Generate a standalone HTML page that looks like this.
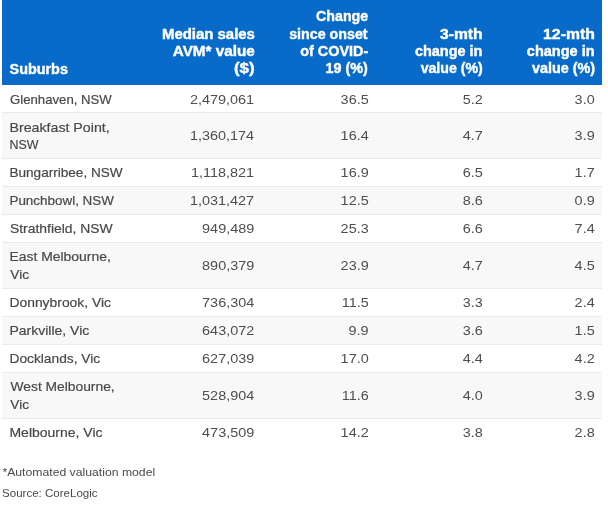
<!DOCTYPE html>
<html><head><meta charset="utf-8">
<style>
html,body{margin:0;padding:0;background:#fff;}
body{width:608px;height:506px;overflow:hidden;position:relative;font-family:"Liberation Sans",sans-serif;}
.hd{position:absolute;left:2px;top:0;width:600px;height:85px;background:#086bc9;}
.r{position:absolute;left:2px;width:600px;box-sizing:border-box;border-bottom:1px solid #eaeaea;}
.r.g{background:#f8f8f8;}
.t{position:absolute;white-space:pre;}
.wrap{position:absolute;left:0;top:0;width:608px;height:506px;will-change:transform;}
.h{color:#fff;font-weight:bold;font-size:14px;line-height:17px;-webkit-text-stroke:0.4px #fff;}
.d{color:#484848;font-size:13.5px;line-height:17px;-webkit-text-stroke:0.2px #484848;}
.n{color:#4e4e4e;font-size:13px;line-height:17px;}
.f{color:#4a4a4a;font-size:11px;line-height:15px;}
.L{transform-origin:0 50%;}
.R{transform-origin:100% 50%;}
</style></head><body>
<div class="wrap">
<div class="hd"></div>
<div class="r" style="top:85px;height:28px"></div>
<div class="r g" style="top:113px;height:46px"></div>
<div class="r" style="top:159px;height:28px"></div>
<div class="r g" style="top:187px;height:28px"></div>
<div class="r" style="top:215px;height:28px"></div>
<div class="r g" style="top:243px;height:46px"></div>
<div class="r" style="top:289px;height:28px"></div>
<div class="r g" style="top:317px;height:28px"></div>
<div class="r" style="top:345px;height:28px"></div>
<div class="r g" style="top:373px;height:46px"></div>
<div class="r" style="top:419px;height:28px;border:0"></div>
<span class="t h L" style="left:9px;top:61px;transform:translateX(0.60px) scaleX(1.0263)">Suburbs</span>
<span class="t h R" style="right:353px;top:26px;transform:translateX(-0.26px) scaleX(1.0664)">Median sales</span>
<span class="t h R" style="right:353px;top:43px;transform:translateX(-0.51px) scaleX(1.0894)">AVM* value</span>
<span class="t h R" style="right:353px;top:60px;transform:translateX(-0.60px) scaleX(1.2026)">($)</span>
<span class="t h R" style="right:240px;top:8px;transform:translateX(-0.17px) scaleX(1.0147)">Change</span>
<span class="t h R" style="right:240px;top:26px;transform:translateX(-0.42px) scaleX(1.0185)">since onset</span>
<span class="t h R" style="right:239px;top:43px;transform:translateX(-0.92px) scaleX(1.0278)">of COVID-</span>
<span class="t h R" style="right:240px;top:60px;transform:translateX(-0.42px) scaleX(1.0241)">19 (%)</span>
<span class="t h R" style="right:125px;top:26px;transform:translateX(-0.52px) scaleX(1.1170)">3-mth</span>
<span class="t h R" style="right:125px;top:43px;transform:translateX(-0.92px) scaleX(1.0331)">change in</span>
<span class="t h R" style="right:125px;top:60px;transform:translateX(-0.68px) scaleX(1.0113)">value (%)</span>
<span class="t h R" style="right:13px;top:26px;transform:translateX(-0.10px) scaleX(1.1264)">12-mth</span>
<span class="t h R" style="right:13px;top:43px;transform:translateX(-0.75px) scaleX(1.0374)">change in</span>
<span class="t h R" style="right:13px;top:60px;transform:translateX(-0.34px) scaleX(1.0271)">value (%)</span>
<span class="t d L" style="left:9px;top:91px;transform:translateX(0.95px) scaleX(0.9765)">Glenhaven, NSW</span>
<span class="t d L" style="left:9px;top:119px;transform:translateX(0.45px) scaleX(1.0517)">Breakfast Point,</span>
<span class="t d L" style="left:9px;top:136px;transform:translateX(0.45px) scaleX(0.9198)">NSW</span>
<span class="t d L" style="left:9px;top:164px;transform:translateX(0.45px) scaleX(1.0056)">Bungarribee, NSW</span>
<span class="t d L" style="left:9px;top:192px;transform:translateX(0.45px) scaleX(0.9945)">Punchbowl, NSW</span>
<span class="t d L" style="left:9px;top:220px;transform:translateX(0.95px) scaleX(1.0298)">Strathfield, NSW</span>
<span class="t d L" style="left:9px;top:248px;transform:translateX(0.45px) scaleX(1.0305)">East Melbourne,</span>
<span class="t d L" style="left:10px;top:266px;transform:translateX(0.35px) scaleX(1.0079)">Vic</span>
<span class="t d L" style="left:9px;top:294px;transform:translateX(0.45px) scaleX(1.0278)">Donnybrook, Vic</span>
<span class="t d L" style="left:9px;top:322px;transform:translateX(0.45px) scaleX(1.0368)">Parkville, Vic</span>
<span class="t d L" style="left:9px;top:350px;transform:translateX(0.45px) scaleX(1.0185)">Docklands, Vic</span>
<span class="t d L" style="left:10px;top:378px;transform:translateX(0.60px) scaleX(1.0221)">West Melbourne,</span>
<span class="t d L" style="left:10px;top:396px;transform:translateX(0.35px) scaleX(1.0079)">Vic</span>
<span class="t d L" style="left:9px;top:424px;transform:translateX(0.45px) scaleX(1.0366)">Melbourne, Vic</span>
<span class="t n R" style="right:353px;top:91px;transform:translateX(-0.75px) scaleX(1.1100)">2,479,061</span>
<span class="t n R" style="right:239px;top:91px;transform:translateX(-0.60px) scaleX(1.1100)">36.5</span>
<span class="t n R" style="right:125px;top:91px;transform:translateX(-0.20px) scaleX(1.1100)">5.2</span>
<span class="t n R" style="right:13px;top:91px;transform:translateX(-0.40px) scaleX(1.1100)">3.0</span>
<span class="t n R" style="right:353px;top:127px;transform:translateX(-0.75px) scaleX(1.1100)">1,360,174</span>
<span class="t n R" style="right:239px;top:127px;transform:translateX(-0.60px) scaleX(1.1100)">16.4</span>
<span class="t n R" style="right:125px;top:127px;transform:translateX(-0.20px) scaleX(1.1100)">4.7</span>
<span class="t n R" style="right:13px;top:127px;transform:translateX(-0.40px) scaleX(1.1100)">3.9</span>
<span class="t n R" style="right:353px;top:164px;transform:translateX(-0.75px) scaleX(1.1100)">1,118,821</span>
<span class="t n R" style="right:239px;top:164px;transform:translateX(-0.60px) scaleX(1.1100)">16.9</span>
<span class="t n R" style="right:125px;top:164px;transform:translateX(-0.20px) scaleX(1.1100)">6.5</span>
<span class="t n R" style="right:13px;top:164px;transform:translateX(-0.40px) scaleX(1.1100)">1.7</span>
<span class="t n R" style="right:353px;top:192px;transform:translateX(-0.75px) scaleX(1.1100)">1,031,427</span>
<span class="t n R" style="right:239px;top:192px;transform:translateX(-0.60px) scaleX(1.1100)">12.5</span>
<span class="t n R" style="right:125px;top:192px;transform:translateX(-0.20px) scaleX(1.1100)">8.6</span>
<span class="t n R" style="right:13px;top:192px;transform:translateX(-0.40px) scaleX(1.1100)">0.9</span>
<span class="t n R" style="right:353px;top:220px;transform:translateX(-0.75px) scaleX(1.1100)">949,489</span>
<span class="t n R" style="right:239px;top:220px;transform:translateX(-0.60px) scaleX(1.1100)">25.3</span>
<span class="t n R" style="right:125px;top:220px;transform:translateX(-0.20px) scaleX(1.1100)">6.6</span>
<span class="t n R" style="right:13px;top:220px;transform:translateX(-0.40px) scaleX(1.1100)">7.4</span>
<span class="t n R" style="right:353px;top:257px;transform:translateX(-0.75px) scaleX(1.1100)">890,379</span>
<span class="t n R" style="right:239px;top:257px;transform:translateX(-0.60px) scaleX(1.1100)">23.9</span>
<span class="t n R" style="right:125px;top:257px;transform:translateX(-0.20px) scaleX(1.1100)">4.7</span>
<span class="t n R" style="right:13px;top:257px;transform:translateX(-0.40px) scaleX(1.1100)">4.5</span>
<span class="t n R" style="right:353px;top:294px;transform:translateX(-0.75px) scaleX(1.1100)">736,304</span>
<span class="t n R" style="right:239px;top:294px;transform:translateX(-0.60px) scaleX(1.1100)">11.5</span>
<span class="t n R" style="right:125px;top:294px;transform:translateX(-0.20px) scaleX(1.1100)">3.3</span>
<span class="t n R" style="right:13px;top:294px;transform:translateX(-0.40px) scaleX(1.1100)">2.4</span>
<span class="t n R" style="right:353px;top:322px;transform:translateX(-0.75px) scaleX(1.1100)">643,072</span>
<span class="t n R" style="right:239px;top:322px;transform:translateX(-0.60px) scaleX(1.1100)">9.9</span>
<span class="t n R" style="right:125px;top:322px;transform:translateX(-0.20px) scaleX(1.1100)">3.6</span>
<span class="t n R" style="right:13px;top:322px;transform:translateX(-0.40px) scaleX(1.1100)">1.5</span>
<span class="t n R" style="right:353px;top:350px;transform:translateX(-0.75px) scaleX(1.1100)">627,039</span>
<span class="t n R" style="right:239px;top:350px;transform:translateX(-0.60px) scaleX(1.1100)">17.0</span>
<span class="t n R" style="right:125px;top:350px;transform:translateX(-0.20px) scaleX(1.1100)">4.4</span>
<span class="t n R" style="right:13px;top:350px;transform:translateX(-0.40px) scaleX(1.1100)">4.2</span>
<span class="t n R" style="right:353px;top:387px;transform:translateX(-0.75px) scaleX(1.1100)">528,904</span>
<span class="t n R" style="right:239px;top:387px;transform:translateX(-0.60px) scaleX(1.1100)">11.6</span>
<span class="t n R" style="right:125px;top:387px;transform:translateX(-0.20px) scaleX(1.1100)">4.0</span>
<span class="t n R" style="right:13px;top:387px;transform:translateX(-0.40px) scaleX(1.1100)">3.9</span>
<span class="t n R" style="right:353px;top:424px;transform:translateX(-0.75px) scaleX(1.1100)">473,509</span>
<span class="t n R" style="right:239px;top:424px;transform:translateX(-0.60px) scaleX(1.1100)">14.2</span>
<span class="t n R" style="right:125px;top:424px;transform:translateX(-0.20px) scaleX(1.1100)">3.8</span>
<span class="t n R" style="right:13px;top:424px;transform:translateX(-0.40px) scaleX(1.1100)">2.8</span>
<span class="t f L" style="left:2px;top:465px;transform:translateX(0.42px) scaleX(1.1100)">*Automated valuation model</span>
<span class="t f L" style="left:2px;top:486px;transform:translateX(0.02px) scaleX(1.0484)">Source: CoreLogic</span>
</div>
</body></html>
